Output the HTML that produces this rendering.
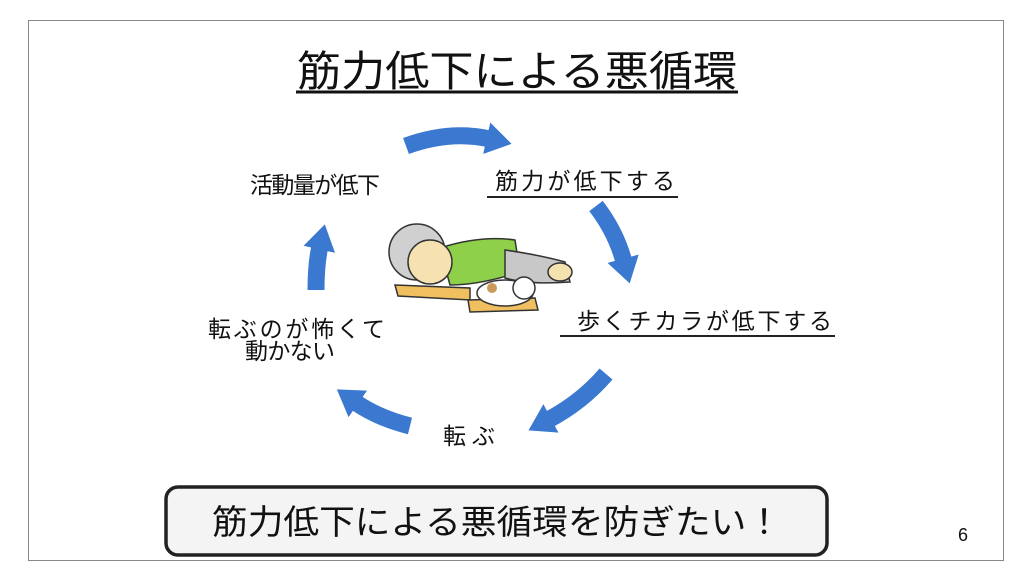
<!DOCTYPE html>
<html><head><meta charset="utf-8"><style>
html,body{margin:0;padding:0;background:#fff;}
svg{display:block;font-family:"Liberation Sans","Noto Sans CJK JP",sans-serif;}
</style></head><body>
<svg width="1024" height="576" viewBox="0 0 1024 576">
<defs>
<marker id="ah" markerWidth="1.6" markerHeight="1.9" refX="0.2" refY="0.95" orient="auto" markerUnits="strokeWidth">
<path d="M0,0 L1.5,0.95 L0,1.9 z" fill="#3b78cf"/>
</marker>
</defs>
<rect x="0" y="0" width="1024" height="576" fill="#fff"/>
<rect x="28.5" y="20.5" width="975" height="540" fill="#fff" stroke="#888" stroke-width="1"/>
<text x="517" y="86" font-size="42" text-anchor="middle" textLength="440" lengthAdjust="spacingAndGlyphs" fill="#111">筋力低下による悪循環</text>
<line x1="296" y1="92" x2="738" y2="92" stroke="#111" stroke-width="3"/>

<g fill="none" stroke="#3b78cf" stroke-width="17" marker-end="url(#ah)">
<path d="M406,146 Q450,130 490,139"/>
<path d="M596,206 Q616,232 624,262"/>
<path d="M606,374 Q582,402 548,420"/>
<path d="M410,426 Q378,418 355,402"/>
<path d="M316,290 Q316,264 320,246"/>
</g>

<g font-size="23" fill="#111" lengthAdjust="spacingAndGlyphs">
<text x="250" y="193" textLength="130">活動量が低下</text>
<text x="495" y="189" textLength="180">筋力が低下する</text>
<text x="577" y="329" textLength="255">歩くチカラが低下する</text>
<text x="208" y="337" textLength="177">転ぶのが怖くて</text>
<text x="245" y="359" textLength="90">動かない</text>
<text x="443" y="444" textLength="52">転ぶ</text>
</g>
<line x1="487" y1="197" x2="678" y2="197" stroke="#222" stroke-width="2"/>
<line x1="560" y1="336" x2="835" y2="336" stroke="#222" stroke-width="2"/>

<!-- illustration -->
<g stroke="#333" stroke-width="1.5">
<path d="M395,285 L470,288 L470,300 L398,296 z" fill="#f0c060"/>
<path d="M468,300 L535,298 L538,310 L470,312 z" fill="#f0c060"/>
<path d="M440,248 Q480,235 515,240 L520,272 Q480,285 450,285 z" fill="#8fd04a"/>
<path d="M505,250 Q540,255 565,262 L570,282 Q530,285 505,278 z" fill="#c8c8c8"/>
<ellipse cx="560" cy="272" rx="12" ry="9" fill="#f6e2b0"/>
<circle cx="417" cy="252" r="28" fill="#d0d0d0"/>
<circle cx="430" cy="262" r="22" fill="#f6e2b0"/>
<ellipse cx="505" cy="293" rx="28" ry="13" fill="#fff"/>
<circle cx="524" cy="288" r="11" fill="#fff"/>
<circle cx="492" cy="288" r="5" fill="#c99a5a" stroke="none"/>
</g>

<rect x="166" y="487" width="661" height="68" rx="12" fill="#f4f4f4" stroke="#222" stroke-width="3.5"/>
<text x="497" y="534" font-size="34" text-anchor="middle" textLength="570" lengthAdjust="spacingAndGlyphs" fill="#111">筋力低下による悪循環を防ぎたい！</text>
<text x="958" y="541" font-size="18" fill="#111">6</text>
</svg>
</body></html>
